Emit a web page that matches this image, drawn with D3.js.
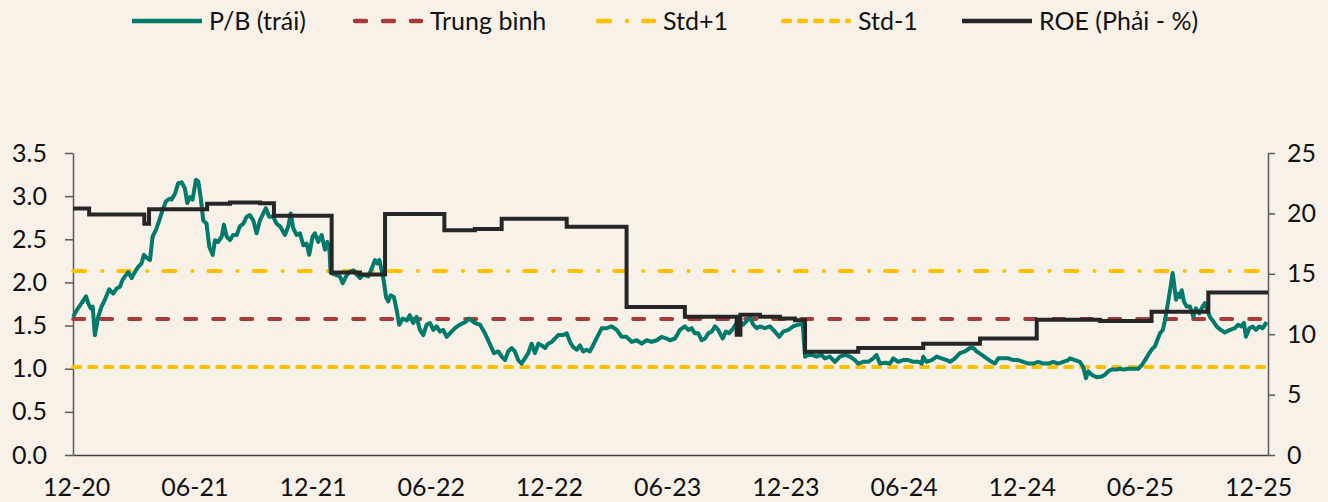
<!DOCTYPE html>
<html>
<head>
<meta charset="utf-8">
<script src="https://cdn.jsdelivr.net/npm/d3@7"></script>
<style>
  body { margin: 0; background: #f8f1e8; }
  svg { display: block; font-family: Lato, sans-serif; }
</style>
</head>
<body>
<div id="root"></div>
<script>
// x = months since Dec-2020
const xTicks = [0, 6, 12, 18, 24, 30, 36, 42, 48, 54, 60]
const xLabels = ['12-20', '06-21', '12-21', '06-22', '12-22', '06-23', '12-23', '06-24', '12-24', '06-25', '12-25']
const leftTicks = [0, 0.5, 1, 1.5, 2, 2.5, 3, 3.5]
const rightTicks = [0, 5, 10, 15, 20, 25]

const pbMean = 1.576
const pbStdUp = 2.132
const pbStdDown = 1.02

const pb = [[-0.15,1.60],[0.03,1.68],[0.28,1.76],[0.50,1.84],[0.61,1.76],[0.74,1.70],[0.84,1.72],[0.95,1.39],[1.12,1.60],[1.29,1.72],[1.46,1.80],[1.68,1.92],[1.88,1.87],[2.06,1.93],[2.22,1.95],[2.36,2.03],[2.48,2.07],[2.64,2.12],[2.82,2.05],[2.98,2.12],[3.15,2.18],[3.32,2.22],[3.44,2.32],[3.61,2.28],[3.75,2.26],[3.88,2.53],[4.05,2.61],[4.22,2.72],[4.39,2.84],[4.56,2.94],[4.73,2.97],[4.85,2.96],[5.02,3.03],[5.18,3.15],[5.36,3.16],[5.52,3.09],[5.64,2.92],[5.78,2.99],[5.91,2.96],[6.08,3.19],[6.20,3.17],[6.32,2.99],[6.45,2.72],[6.62,2.68],[6.76,2.41],[6.93,2.32],[7.05,2.49],[7.21,2.47],[7.39,2.53],[7.50,2.67],[7.64,2.53],[7.81,2.49],[7.97,2.55],[8.15,2.55],[8.31,2.65],[8.48,2.68],[8.65,2.76],[8.82,2.78],[8.99,2.72],[9.16,2.57],[9.33,2.72],[9.50,2.80],[9.63,2.86],[9.80,2.76],[10.01,2.76],[10.18,2.68],[10.35,2.65],[10.60,2.55],[10.77,2.65],[10.89,2.80],[11.02,2.63],[11.19,2.55],[11.36,2.57],[11.53,2.43],[11.70,2.45],[11.83,2.32],[12.00,2.53],[12.12,2.57],[12.29,2.47],[12.46,2.55],[12.63,2.38],[12.75,2.47],[12.85,2.40],[12.92,2.11],[13.14,2.09],[13.39,2.07],[13.53,1.99],[13.70,2.07],[13.86,2.12],[14.07,2.14],[14.24,2.09],[14.41,2.05],[14.57,2.09],[14.83,2.07],[15.00,2.16],[15.17,2.26],[15.28,2.22],[15.39,2.26],[15.51,2.14],[15.62,2.01],[15.73,1.83],[15.84,1.78],[15.96,1.85],[16.13,1.83],[16.27,1.68],[16.40,1.51],[16.57,1.58],[16.78,1.56],[16.94,1.62],[17.11,1.53],[17.28,1.60],[17.45,1.45],[17.62,1.39],[17.79,1.51],[17.96,1.53],[18.13,1.45],[18.30,1.49],[18.47,1.43],[18.63,1.45],[18.81,1.37],[18.97,1.41],[19.23,1.47],[19.48,1.51],[19.74,1.54],[19.95,1.58],[20.24,1.53],[20.50,1.51],[20.75,1.41],[20.99,1.29],[21.21,1.18],[21.43,1.20],[21.60,1.14],[21.77,1.10],[21.93,1.20],[22.11,1.24],[22.27,1.20],[22.44,1.10],[22.61,1.06],[22.78,1.12],[22.95,1.18],[23.12,1.29],[23.29,1.18],[23.46,1.29],[23.63,1.27],[23.80,1.24],[23.96,1.29],[24.14,1.31],[24.31,1.35],[24.47,1.39],[24.73,1.39],[24.90,1.41],[25.07,1.31],[25.23,1.25],[25.41,1.22],[25.57,1.27],[25.74,1.20],[25.91,1.22],[26.08,1.20],[26.28,1.29],[26.50,1.39],[26.68,1.47],[26.93,1.47],[27.18,1.49],[27.44,1.45],[27.69,1.37],[27.94,1.37],[28.20,1.31],[28.45,1.33],[28.71,1.29],[28.96,1.33],[29.21,1.31],[29.47,1.33],[29.72,1.37],[29.97,1.35],[30.14,1.33],[30.40,1.35],[30.65,1.45],[30.90,1.49],[31.07,1.45],[31.24,1.47],[31.41,1.41],[31.58,1.41],[31.75,1.33],[31.92,1.35],[32.09,1.41],[32.26,1.43],[32.43,1.49],[32.59,1.45],[32.82,1.35],[32.98,1.43],[33.15,1.41],[33.36,1.47],[33.53,1.53],[33.70,1.54],[33.86,1.51],[34.07,1.56],[34.20,1.60],[34.37,1.51],[34.54,1.47],[34.71,1.49],[34.96,1.47],[35.22,1.49],[35.47,1.43],[35.69,1.37],[35.89,1.43],[36.15,1.45],[36.40,1.49],[36.65,1.51],[36.88,1.52],[37.00,1.14],[37.16,1.16],[37.34,1.16],[37.59,1.14],[37.84,1.16],[38.01,1.12],[38.26,1.14],[38.52,1.08],[38.77,1.14],[39.02,1.16],[39.28,1.14],[39.53,1.10],[39.70,1.06],[39.95,1.08],[40.21,1.08],[40.46,1.12],[40.63,1.16],[40.80,1.06],[41.06,1.07],[41.31,1.06],[41.48,1.12],[41.73,1.08],[41.98,1.10],[42.24,1.10],[42.49,1.08],[42.75,1.08],[42.92,1.06],[43.00,1.14],[43.17,1.08],[43.43,1.10],[43.68,1.14],[43.93,1.12],[44.19,1.10],[44.36,1.08],[44.61,1.12],[44.86,1.18],[45.12,1.20],[45.37,1.24],[45.54,1.24],[45.71,1.20],[45.97,1.16],[46.22,1.12],[46.47,1.08],[46.64,1.06],[46.81,1.12],[47.06,1.12],[47.32,1.12],[47.57,1.10],[47.82,1.10],[48.08,1.08],[48.33,1.06],[48.58,1.06],[48.84,1.08],[49.09,1.06],[49.35,1.06],[49.60,1.08],[49.85,1.06],[50.11,1.08],[50.36,1.10],[50.45,1.12],[50.70,1.10],[50.95,1.08],[51.12,1.02],[51.26,0.89],[51.38,0.97],[51.55,0.93],[51.80,0.90],[52.06,0.91],[52.22,0.93],[52.39,0.97],[52.56,0.99],[52.82,0.99],[52.98,1.00],[53.15,0.99],[53.41,1.00],[53.66,1.00],[53.91,1.00],[54.09,1.04],[54.26,1.10],[54.42,1.16],[54.59,1.22],[54.76,1.26],[54.88,1.33],[55.02,1.41],[55.16,1.45],[55.27,1.56],[55.36,1.68],[55.47,1.83],[55.57,1.97],[55.66,2.11],[55.74,1.97],[55.83,1.80],[55.91,1.87],[56.03,1.83],[56.12,1.91],[56.23,1.78],[56.37,1.72],[56.54,1.72],[56.71,1.60],[56.84,1.70],[57.01,1.64],[57.18,1.72],[57.30,1.76],[57.42,1.68],[57.55,1.60],[57.69,1.56],[57.89,1.49],[58.10,1.45],[58.31,1.42],[58.57,1.45],[58.82,1.47],[58.99,1.51],[59.16,1.49],[59.28,1.53],[59.38,1.37],[59.55,1.47],[59.72,1.49],[59.89,1.45],[60.06,1.49],[60.23,1.47],[60.43,1.54]]

// ROE steps: [month, %], value holds until next point
const roe = [[-0.15,20.4],[0.66,19.9],[3.46,19.15],[3.70,20.35],[6.65,20.8],[7.81,20.9],[9.33,20.85],[10.04,19.8],[12.97,15.1],[14.41,14.95],[15.68,19.95],[18.69,18.6],[20.24,18.7],[21.60,19.55],[24.90,18.9],[27.94,12.25],[30.90,11.45],[33.53,9.95],[33.72,11.6],[34.71,11.45],[35.73,11.3],[36.49,11.15],[37.00,8.55],[39.70,8.85],[43.00,9.2],[45.88,9.65],[48.76,11.2],[51.97,11.1],[54.59,11.85],[57.47,13.45],[60.50,13.45]]

const colors = { pb: '#007a6a', mean: '#a83b39', std: '#ffc000', roe: '#262626', axis: '#595959' }
const dash = { mean: '11,17', up: '12,17,0.1,16', down: '7,9' }

const W = 1328, H = 502
const svg = d3.select('#root').append('svg').attr('width', W).attr('height', H)
svg.append('rect').attr('width', W).attr('height', H).attr('fill', '#f8f1e8')

const x = d3.scaleLinear().domain([-0.16, 60.5]).range([73, 1268])
const yL = d3.scaleLinear().domain([0, 3.5]).range([455, 153])
const yR = d3.scaleLinear().domain([0, 25]).range([455, 153])

// axes
const gl = svg.append('g').attr('transform', 'translate(73,0)')
  .call(d3.axisLeft(yL).tickValues(leftTicks).tickFormat(d3.format('.1f')).tickSize(8).tickPadding(18).tickSizeOuter(0))
const gr = svg.append('g').attr('transform', 'translate(1268,0)')
  .call(d3.axisRight(yR).tickValues(rightTicks).tickSize(7).tickPadding(12).tickSizeOuter(0))
const gb = svg.append('g').attr('transform', 'translate(0,455)')
  .call(d3.axisBottom(x).tickValues(xTicks).tickFormat((d, i) => xLabels[i]).tickSize(0).tickPadding(23).tickSizeOuter(0))

;[gl, gr, gb].forEach(g => {
  g.selectAll('path, line').attr('stroke', colors.axis).attr('stroke-width', 1.5)
  g.selectAll('text').attr('font-family', 'Lato, sans-serif').attr('font-size', 25).attr('fill', '#111')
})
gb.select('path').attr('stroke', '#404040')

// reference lines
const refs = [
  { v: pbMean, c: colors.mean, d: dash.mean },
  { v: pbStdUp, c: colors.std, d: dash.up },
  { v: pbStdDown, c: colors.std, d: dash.down }
]
svg.append('g').selectAll('line').data(refs).join('line')
  .attr('x1', x(pb[0][0])).attr('x2', x(pb[pb.length - 1][0]))
  .attr('y1', d => yL(d.v)).attr('y2', d => yL(d.v))
  .attr('stroke', d => d.c).attr('stroke-width', 4)
  .attr('stroke-dasharray', d => d.d).attr('stroke-linecap', 'round')

// P/B line
svg.append('path').datum(pb)
  .attr('fill', 'none').attr('stroke', colors.pb).attr('stroke-width', 4)
  .attr('stroke-linejoin', 'round')
  .attr('d', d3.line().x(d => x(d[0])).y(d => yL(d[1])))

// ROE step line
svg.append('path').datum(roe)
  .attr('fill', 'none').attr('stroke', colors.roe).attr('stroke-width', 4)
  .attr('d', d3.line().curve(d3.curveStepAfter).x(d => x(d[0])).y(d => yR(d[1])))

// legend
const legend = [
  { label: 'P/B (trái)', x: 132, w: 70, c: colors.pb, d: null },
  { label: 'Trung bình', x: 353, w: 70, c: colors.mean, d: dash.mean },
  { label: 'Std+1', x: 596, w: 60, c: colors.std, d: dash.up },
  { label: 'Std-1', x: 781, w: 70, c: colors.std, d: dash.down },
  { label: 'ROE (Phải - %)', x: 962, w: 70, c: colors.roe, d: null }
]
const lg = svg.append('g').selectAll('g').data(legend).join('g')
  .attr('transform', d => `translate(${d.x},21)`)
lg.append('line')
  .attr('x1', d => d.d ? 2 : 0).attr('x2', d => d.d ? d.w - 2 : d.w)
  .attr('stroke', d => d.c).attr('stroke-width', 4.5)
  .attr('stroke-dasharray', d => d.d).attr('stroke-linecap', d => d.d ? 'round' : 'butt')
lg.append('text')
  .attr('x', d => d.w + 7).attr('dy', '0.35em')
  .attr('font-size', 25).attr('fill', '#111')
  .text(d => d.label)
</script>
</body>
</html>
